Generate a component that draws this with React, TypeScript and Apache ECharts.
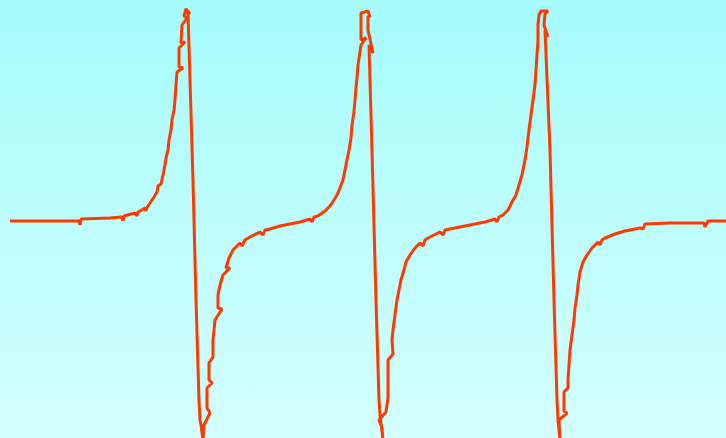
import React, { useEffect, useRef } from "react";
import * as echarts from "echarts";

// x: degrees, y: curve value
const branch1: [number, number][] = [
  [-90, -2], [-21, -2], [-20, -6], [-19, 0], [10, 1], [22, 2], [23, -2], [24, 3], [35, 6], [37, 3], [38, 7], [40, 8],
  [45, 11], [46, 8], [47, 12], [48, 13], [50, 16], [54, 22], [57, 27], [58, 33], [61, 35], [63, 44], [65, 54], [66, 61],
  [68, 69], [69, 79], [71, 89], [72, 99], [74, 109], [75, 119], [76, 134], [77, 147], [83, 151], [79, 152],
  [79, 171], [85, 177], [81, 176], [82, 194], [87, 201], [84, 203], [86, 210], [90, 205], [88, 206],
];
const fall1: [number, number][] = [
  [93, 39], [96, -81], [99, -181], [100, -201], [101, -206], [103, -221],
];
const branch2: [number, number][] = [
  [104, -206], [110, -194], [107, -189], [107, -169], [112, -164], [109, -161], [109, -144], [113, -138],
  [113, -121], [115, -101], [122, -90], [118, -89], [118, -76], [120, -66], [123, -56], [130, -49],
  [126, -49], [129, -39], [133, -31], [140, -24], [142, -27], [145, -21], [150, -18], [160, -13], [163, -16], [165, -11],
  [170, -10], [180, -7], [190, -5], [200, -3], [210, 0], [212, -3], [214, 2], [218, 3], [225, 8], [230, 13], [234, 19],
  [237, 24], [240, 31], [243, 39], [245, 49], [247, 59], [249, 69], [251, 81], [252, 94], [254, 107], [255, 119],
  [256, 131], [257, 141], [258, 154], [261, 174], [266, 181], [261, 179], [261, 206], [268, 208], [270, 202], [268, 203],
];
const fall2: [number, number][] = [
  [268, 189], [273, 166], [269, 174], [272, 69], [276, -81], [279, -181], [280, -196], [283, -221],
];
const branch3: [number, number][] = [
  [282, -209], [279, -201], [286, -193], [288, -179], [288, -141], [293, -135], [292, -121], [293, -111],
  [295, -96], [297, -81], [299, -71], [301, -61], [304, -51], [306, -43], [310, -36], [315, -29], [320, -24],
  [323, -27], [325, -21], [328, -19], [340, -13], [343, -16], [345, -11], [355, -9], [370, -6], [385, -3], [395, 0],
  [397, -3], [399, 2], [403, 4], [408, 9], [412, 17], [416, 24], [419, 34], [422, 44], [425, 59], [427, 72],
  [429, 89], [431, 104], [433, 119], [435, 134], [436, 149], [437, 164], [438, 179], [438, 194], [439, 204],
  [441, 208], [448, 208], [445, 205],
];
const fall3: [number, number][] = [
  [444, 194], [448, 182], [445, 189], [450, 69], [454, -81], [457, -181], [458, -201], [460, -221],
];
const branch4: [number, number][] = [
  [459, -201], [467, -194], [464, -192], [464, -173], [468, -169], [468, -161], [469, -146], [470, -131],
  [472, -116], [474, -101], [475, -89], [477, -76], [478, -66], [480, -53], [483, -43], [487, -36],
  [492, -29], [498, -23], [500, -26], [502, -21], [505, -19], [515, -15], [525, -12], [540, -9], [543, -10],
  [545, -5], [570, -4], [604, -4], [605, -8], [608, -2], [626, -2],
];

const curve = [...branch1, ...fall1, ...branch2, ...fall2, ...branch3, ...fall3, ...branch4];

export default function App() {
  const ref = useRef<HTMLDivElement>(null);
  useEffect(() => {
    document.body.style.margin = "0";
    const chart = echarts.init(ref.current!, undefined, { renderer: "svg" });
    chart.setOption({
      animation: false,
      backgroundColor: new echarts.graphic.LinearGradient(0, 0, 0, 1, [
        { offset: 0, color: "#a6fbfb" },
        { offset: 1, color: "#d3fffe" },
      ]),
      grid: { left: 0, right: 0, top: 0, bottom: 0 },
      xAxis: { type: "value", min: -100, max: 626, show: false },
      yAxis: { type: "value", min: -219, max: 219, show: false },
      series: [
        {
          type: "line",
          data: curve,
          showSymbol: false,
          symbol: "none",
          clip: true,
          lineStyle: { color: "#ff3a00", width: 3 },
        },
      ],
    });
    return () => chart.dispose();
  }, []);
  return <div ref={ref} style={{ position: "absolute", left: 0, top: 0, width: 726, height: 438 }} />;
}
